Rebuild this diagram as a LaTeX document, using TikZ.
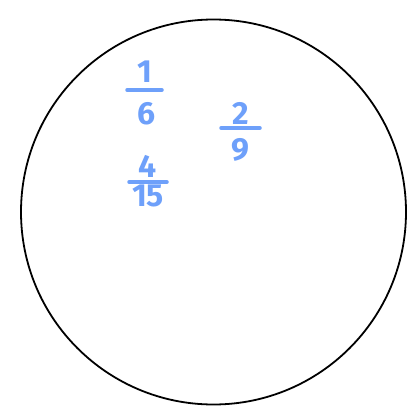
\documentclass[tikz,border=0pt]{standalone}
\usepackage{fontspec}
\setmainfont{Fira Sans}
\definecolor{ink}{RGB}{110,160,250}
\begin{document}
\begin{tikzpicture}[x=1pt,y=1pt,
  digit/.style={text=ink,font=\fontsize{32}{32}\selectfont\bfseries,inner sep=0pt,anchor=center},
  fbar/.style={draw=ink,line width=3.5pt,line cap=round}]
\useasboundingbox (0,0) rectangle (414,405);
\node[draw,circle,line width=1.8pt,minimum size=385pt,inner sep=0pt] (c) at (213.5,193) {};
% 1/6
\node[digit] (n1) at (145,333) {1};
\coordinate (a1) at (127,315); \coordinate (b1) at (162,315);
\draw[fbar] (a1) -- (b1);
\node[digit] (d1) at (147,291) {6};
% 2/9
\node[digit] (n2) at (241,292) {2};
\coordinate (a2) at (221,277); \coordinate (b2) at (260,277);
\draw[fbar] (a2) -- (b2);
\node[digit] (d2) at (240,255) {9};
% 4/15
\node[digit] (n3) at (148,239) {4};
\coordinate (a3) at (129,223); \coordinate (b3) at (167,223);
\draw[fbar] (a3) -- (b3);
\node[digit] (d3) at (148,209) {15};
\end{tikzpicture}
\end{document}
